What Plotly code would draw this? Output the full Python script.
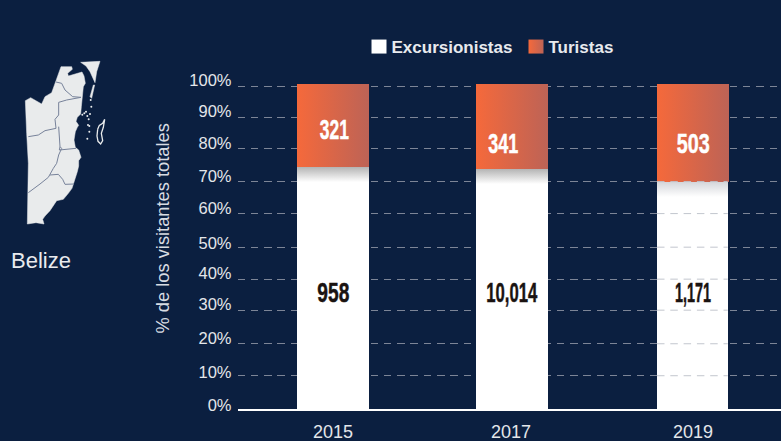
import json
import plotly.graph_objects as go

# ---- data ----
years = ["2015", "2017", "2019"]
share_excursionistas = [74.9, 74.3, 70.3]
share_turistas = [25.7, 26.3, 30.3]
count_excursionistas = ["958", "10,014", "1,171"]
count_turistas = ["321", "341", "503"]
y_tick_values = [0, 10.3, 20.2, 30.6, 40.2, 50.1, 60.5, 70.4, 80.6, 90.3, 100]
y_tick_labels = ["0%", "10%", "20%", "30%", "40%", "50%", "60%", "70%", "80%", "90%", "100%"]

# ---- map of Belize, outline ----
map_main_x = [183,215,217,203,205,218,232,246,252,256,250,246,244,242,232,228,236,232,226,222,226,236,243,236,236,232,224,216,205,190,170,150,135,128,132,108,82,83,85,80,76,92,105,125,135,155,168,175,183]
map_main_y = [80,80,88,100,108,104,98,96,108,130,140,170,200,222,232,244,256,262,275,300,322,330,352,362,378,395,420,445,460,478,482,512,528,538,552,548,552,460,370,280,182,173,180,192,170,158,122,105,80]
map_caye_x = [242,300,290,285,270,258,242,None,280,284,275,270,280]
map_caye_y = [67,64,95,128,95,78,67,None,135,135,175,170,135]
map_atoll_x = [293,298,308,314,310,304,308,302,294,291,293]
map_atoll_y = [268,256,250,238,262,280,302,312,304,288,268]
map_islet_x = [247,253,258,262,266,270,274,272,264,268,268,262]
map_islet_y = [224,220,215,228,238,222,200,180,255,258,275,296]
map_border_x = [168,185,195,218,243,None,243,200,176,176,165,168,135,115,85,None,176,180,178,228,None,180,185,176,170,160,150,145,120,85,None,150,175,188,195,222]
map_border_y = [126,130,150,170,172,None,172,180,187,225,238,265,272,285,290,None,260,320,330,325,None,320,325,345,370,385,405,412,432,458,None,405,403,418,433,432]

# ---- layout constants ----
W, H = 781, 441
NAVY = "#0b1f40"
SANS = "Liberation Sans"
AX_BOTTOM, AX_TOP = 409, 84
X_LEFT = 237.5
UNIT = 180
R0 = -(333 - X_LEFT) / UNIT
R1 = R0 + (W - X_LEFT) / UNIT
Y_MAX = (AX_BOTTOM - AX_TOP) / 3.23

def px(x):
    return x / W

def py(y):
    return 1 - y / H

bar_width = [0.4, 0.4, 0.393]
bar_offset = [-0.2, -0.2056, -0.2]
top_label_y = [86.5, 82.3, 82.3]
top_label_shift = [1, -10, 0]
low_label_y = [36.0, 36.0, 36.0]
low_label_shift = [0, -1, 0]
tick_label_shift = [3.3, 4, 6, 6, 5.7, 4.3, 5.4, 5.4, 5.4, 6.3, 5.7]
top_label_w = [29, 30, 33]
low_label_w = [32, 51, 36]

fig = go.Figure()
fig.add_bar(name="Excursionistas", x=years, y=share_excursionistas, width=bar_width, offset=bar_offset,
            marker=dict(color="#ffffff", line=dict(width=0)))
fig.add_bar(name="Turistas", x=years, y=share_turistas, width=[0.4, 0.4, 0.4], offset=bar_offset,
            marker=dict(color="#ea6a45", line=dict(width=0)))

map_axes = dict(xaxis="x2", yaxis="y2", showlegend=False, hoverinfo="skip")
fig.add_scatter(x=map_main_x, y=map_main_y, mode="lines", fill="toself", fillcolor="#e9ebec",
                line=dict(color="#e9ebec", width=0.5), **map_axes)
fig.add_scatter(x=map_caye_x, y=map_caye_y, mode="lines", fill="toself", fillcolor="#e9ebec",
                line=dict(color="#e9ebec", width=0.5), **map_axes)
fig.add_scatter(x=map_atoll_x, y=map_atoll_y, mode="lines",
                line=dict(color="#e9ebec", width=1.3), **map_axes)
fig.add_scatter(x=map_islet_x, y=map_islet_y, mode="markers",
                marker=dict(color="#e9ebec", size=2), **map_axes)
fig.add_scatter(x=map_border_x, y=map_border_y, mode="lines",
                line=dict(color="#77829a", width=1), **map_axes)

annotations = []
for i in range(3):
    annotations.append(dict(x=i, y=top_label_y[i], xref="x", yref="y", text=count_turistas[i], showarrow=False,
                            xshift=top_label_shift[i],
                            font=dict(family=SANS, size=28, color="#ffffff", weight="bold")))
    annotations.append(dict(x=i, y=low_label_y[i], xref="x", yref="y", text=count_excursionistas[i], showarrow=False,
                            xshift=low_label_shift[i],
                            font=dict(family=SANS, size=28, color="#1a1311", weight="bold")))
annotations.append(dict(x=px(9), y=py(260), xref="paper", yref="paper", xanchor="left", yanchor="middle",
                        text="Belize", showarrow=False, font=dict(family=SANS, size=22, color="#e8eaee")))
annotations.append(dict(x=px(162.5), y=py(229), xref="paper", yref="paper", xanchor="center", yanchor="middle",
                        text="% de los visitantes totales", textangle=-90, showarrow=False,
                        font=dict(family=SANS, size=18.3, color="#d8dce3")))

shapes = [dict(type="line", layer="above", xref="x", yref="y", x0=1.8, x1=2.193, y0=v, y1=v,
               line=dict(color="#c2c6ce", width=1, dash="7.5px,5.8px"))
          for v in y_tick_values[1:8]]

fig.update_layout(
    width=W, height=H, autosize=False, barmode="stack", bargap=0.6,
    paper_bgcolor=NAVY, plot_bgcolor=NAVY, margin=dict(l=0, r=0, t=0, b=0, autoexpand=False),
    font=dict(family=SANS, color="#e4e6ea"),
    annotations=annotations, shapes=shapes,
    legend=dict(orientation="h", traceorder="normal", x=px(373 - 14), y=py(47), xanchor="left", yanchor="middle",
                bgcolor="rgba(0,0,0,0)", font=dict(family=SANS, size=17, color="#e8eaee", weight="bold"),
                itemclick=False, itemdoubleclick=False),
    xaxis=dict(domain=[px(X_LEFT), 1], range=[R0, R1], type="category", categoryorder="array", categoryarray=years,
               showgrid=False, zeroline=False, showline=True, linecolor="#ffffff", linewidth=2,
               tickfont=dict(family=SANS, size=18, color="#e4e6ea"), ticks="", ticklabelstandoff=5, anchor="y"),
    yaxis=dict(domain=[py(AX_BOTTOM), py(AX_TOP)], range=[0, Y_MAX], tickmode="array",
               tickvals=y_tick_values, ticktext=y_tick_labels, zeroline=False, showline=False,
               showgrid=True, gridcolor="#7d8597", gridwidth=1, griddash="7.5px,5.8px",
               tickfont=dict(family=SANS, size=16.5, color="#e4e6ea"), ticks="", anchor="x", ticklabelstandoff=5),
    xaxis2=dict(domain=[0, px(120)], range=[0, 360], visible=False, anchor="y2"),
    yaxis2=dict(domain=[py(240), py(40)], range=[600, 0], visible=False, anchor="x2"),
)

post = """
document.body.style.margin='0';
document.documentElement.style.overflow='hidden';
var gd=document.getElementById('{plot_id}');
var NS='http://www.w3.org/2000/svg';
var svg=gd.querySelector('.main-svg');
var defs=svg.querySelector('defs');
function grad(id,attrs,stops){
  var g=document.createElementNS(NS,'linearGradient');g.setAttribute('id',id);
  for(var k in attrs){g.setAttribute(k,attrs[k]);}
  stops.forEach(function(s){var e=document.createElementNS(NS,'stop');e.setAttribute('offset',s[0]);e.setAttribute('stop-color',s[1]);g.appendChild(e);});
  defs.appendChild(g);
}
grad('orangeGrad',{x1:0,x2:1,y1:0,y2:0},[[0,'#f5693b'],[1,'#bd6356']]);
var layers=gd.querySelectorAll('.barlayer .trace');
var tops=['#b4b4b4','#b4b4b4','#d4d6da'];
layers[0].querySelectorAll('.point path').forEach(function(p,i){
  var b=p.getBBox();
  grad('shade'+i,{gradientUnits:'userSpaceOnUse',x1:0,x2:0,y1:b.y,y2:b.y+15},[[0,tops[i]],[1,'#ffffff']]);
  p.style.fill='url(#shade'+i+')';
});
layers[1].querySelectorAll('.point path').forEach(function(p){p.style.fill='url(#orangeGrad)';});
var sb=gd.querySelector('.legend .scrollbox');
if(sb){sb.removeAttribute('clip-path');sb.style.clipPath='none';}
var items=gd.querySelectorAll('.legend .traces');
var m=items[0].getAttribute('transform').match(/translate\\(\\s*([-0-9.]+)[,\\s]+([-0-9.]+)/);
items.forEach(function(t,i){
  var p=t.querySelector('.legendpoints path');
  p.setAttribute('d','M7.5,7H-7.5V-7H7.5Z');
  if(i==1){p.style.fill='url(#orangeGrad)';}
  t.querySelector('.legendtext').setAttribute('x',32.5);
  if(i==1){t.setAttribute('transform','translate('+(parseFloat(m[1])+157)+','+m[2]+')');}
});
var shifts=SHIFTS;
gd.querySelectorAll('.ytick text').forEach(function(t,i){
  t.setAttribute('y',parseFloat(t.getAttribute('y'))-shifts[i]);
});
var xt=gd.querySelectorAll('.xtick text');
if(xt.length>1){xt[1].setAttribute('x',parseFloat(xt[1].getAttribute('x'))-2);}
var widths=WIDTHS;
gd.querySelectorAll('.annotation-text').forEach(function(t){
  var w=widths[t.textContent];
  if(w){
    t.setAttribute('textLength',w);t.setAttribute('lengthAdjust','spacingAndGlyphs');
    t.style.stroke=getComputedStyle(t).fill;t.style.strokeWidth='0.5px';
  }
});
"""
widths = dict(zip(count_turistas + count_excursionistas, top_label_w + low_label_w))
post = post.replace("SHIFTS", json.dumps(tick_label_shift)).replace("WIDTHS", json.dumps(widths))

fig.write_html("out.html", post_script=post, config=dict(displayModeBar=False))
